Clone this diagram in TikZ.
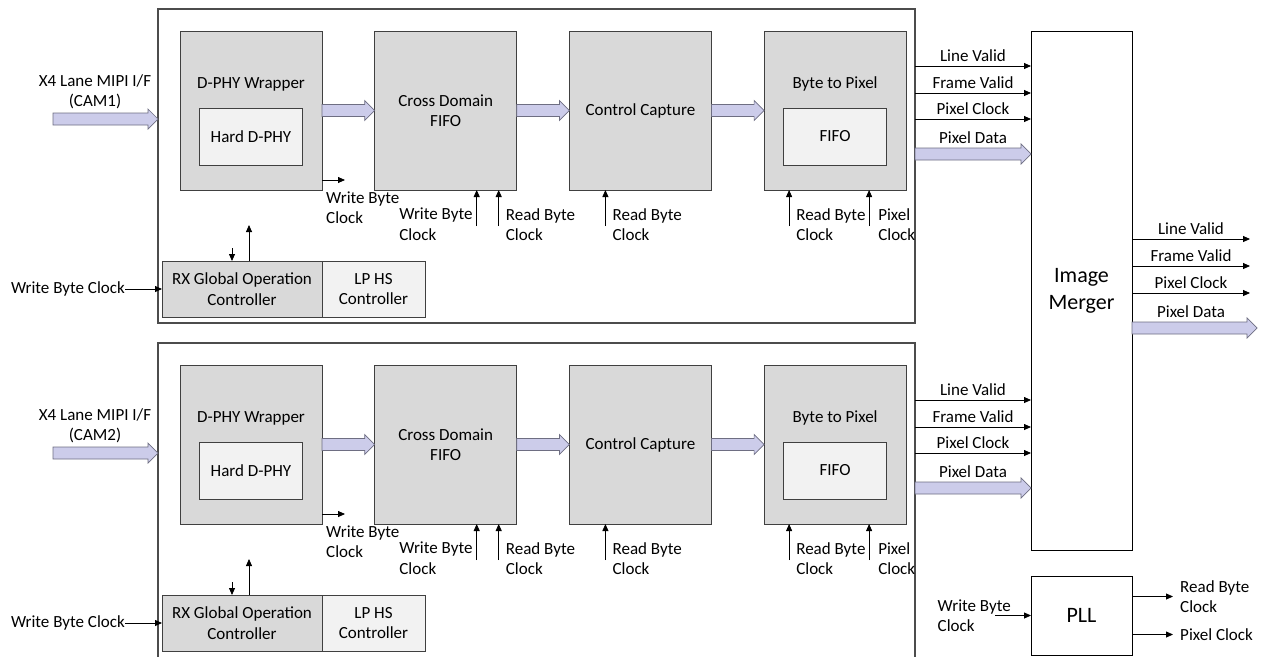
\documentclass[tikz,border=0pt]{standalone}
\usepackage{fontspec}
\setmainfont{Carlito}
\usetikzlibrary{arrows.meta,positioning,calc}
\definecolor{lav}{RGB}{204,204,234}
\definecolor{lavline}{RGB}{110,110,130}
\tikzset{
  outerbox/.style = {draw=black!70, line width=1.4pt, inner sep=0pt, outer sep=0pt,
  minimum width=757pt, anchor=north},
  basic/.style  = {draw=black!75, line width=0.9pt, inner sep=0pt, outer sep=0pt, align=center},
  mblock/.style = {basic, fill=gray!30, minimum width=142pt, minimum height=159pt},
  minner/.style = {basic, fill=gray!10, minimum width=103pt, minimum height=57pt},
  mctl/.style   = {basic, minimum height=56pt},
  bigbox/.style = {basic, draw=black, minimum width=101pt, font=\fontsize{22}{27}\selectfont},
  sig/.style    = {->, line width=0.8pt},
  lbl/.style    = {inner sep=0pt, align=left},
  fat/.style    = {draw=lavline, fill=lav, line width=0.7pt,
  to path={($(\tikztostart)+(0,6)$) -- ($(\tikztotarget)+(-10,6)$) -- ($(\tikztotarget)+(-10,10)$)
  -- (\tikztotarget) -- ($(\tikztotarget)+(-10,-10)$) -- ($(\tikztotarget)+(-10,-6)$)
  -- ($(\tikztostart)+(0,-6)$) -- cycle}}
}

\begin{document}
\begin{tikzpicture}[x=1pt, y=1pt, >={Triangle[length=7pt,width=6pt]},
  font=\fontsize{17}{20.5}\selectfont]
\path[use as bounding box, clip] (0,0) rectangle (1268,-656);

\node[bigbox, minimum height=519pt, anchor=north west] (merger) at (1031,-31) {Image\\Merger};
\node[bigbox, minimum height=79pt, below=26pt of merger] (pll) {PLL};

\foreach \i/\yy/\hh in {1/0/314,2/-334/330}{
  \node[outerbox, minimum height=\hh] (cam\i) at (536.5,-9+\yy) {};
  \node[mblock, below right=22pt and 22pt of cam\i.north west] (dphy\i) {};
  \node[mblock, right=52.7pt of dphy\i] (cd\i) {Cross Domain\\FIFO};
  \node[mblock, right=52.7pt of cd\i] (ctrl\i) {Control Capture};
  \node[mblock, right=52.7pt of ctrl\i] (btp\i) {};
  \node[minner, below=77pt of dphy\i.north] (hdphy\i) {Hard D-PHY};
  \node[lbl, above=17pt of hdphy\i] (dphyt\i) {D-PHY Wrapper};
  \node[minner, below=77pt of btp\i.north] (fifo\i) {FIFO};
  \node[lbl, above=17pt of fifo\i] (btpt\i) {Byte to Pixel};
  \node[mctl, fill=gray!30, minimum width=160pt, below right=252pt and 4pt of cam\i.north west] (rx\i)
    {RX Global Operation\\Controller};
  \node[mctl, fill=gray!10, minimum width=103pt, right=0pt of rx\i] (lphs\i) {LP HS\\Controller};

  % data path
  \coordinate (camin\i) at ([yshift=-110]cam\i.north west);
  \coordinate[left=105pt of camin\i] (mipi\i);
  \draw[fat] (mipi\i) to (camin\i);
  \node[align=center, inner sep=0pt] (mipil\i) at ([xshift=-63,yshift=-83]cam\i.north west)
    {X4 Lane MIPI I/F\\(CAM\i)};
  \draw[fat] (dphy\i.east) to (cd\i.west);
  \draw[fat] (cd\i.east) to (ctrl\i.west);
  \draw[fat] (ctrl\i.east) to (btp\i.west);

  % clocks
  \coordinate (wbo\i) at ([yshift=10]dphy\i.south east);
  \coordinate[right=23pt of wbo\i] (wboe\i);
  \draw[sig] (wbo\i) -- (wboe\i);
  \node[lbl, below right=1.5pt and 4pt of dphy\i.south east] (wbol\i) {Write Byte\\Clock};
  \coordinate (cdw\i) at ([xshift=-40]cd\i.south east);
  \coordinate (cdr\i) at ([xshift=-18]cd\i.south east);
  \coordinate (ccr\i) at ([xshift=36]ctrl\i.south west);
  \coordinate (bpr\i) at ([xshift=25]btp\i.south west);
  \coordinate (bpp\i) at ([xshift=105]btp\i.south west);
  \foreach \c in {cdw,cdr,ccr,bpr,bpp} \draw[sig] ([yshift=-36]\c\i) -- (\c\i);
  \node[lbl, below left=18pt and 4pt of cdw\i] (cdwl\i) {Write Byte\\Clock};
  \node[lbl, below right=18pt and 7pt of cdr\i] (cdrl\i) {Read Byte\\Clock};
  \node[lbl, below right=18pt and 7pt of ccr\i] (ccrl\i) {Read Byte\\Clock};
  \node[lbl, below right=18pt and 7pt of bpr\i] (bprl\i) {Read Byte\\Clock};
  \node[lbl, below right=18pt and 9pt of bpp\i] (bppl\i) {Pixel\\Clock};

  % controller
  \coordinate (rxd\i) at ([xshift=70]rx\i.north west);
  \coordinate (rxu\i) at ([xshift=87]rx\i.north west);
  \draw[sig] ([yshift=13]rxd\i) -- (rxd\i);
  \draw[sig] (rxu\i) -- ([yshift=36]rxu\i);
  \node[inner sep=0pt, left=37pt of rx\i] (wbc\i) {Write Byte Clock};
  \draw[sig] (wbc\i) -- (rx\i);

  % to merger
  \foreach \s/\dy in {Line Valid/57,Frame Valid/84,Pixel Clock/110}{
    \coordinate (o) at ([yshift=-\dy]cam\i.north east);
    \draw[sig] (o) -- (o -| merger.west) node[midway, above=1pt] (s\i\dy) {\s};
  }
  \coordinate (pd\i) at ([yshift=-145]cam\i.north east);
  \coordinate (pde\i) at (pd\i -| merger.west);
  \draw[fat] (pd\i) to (pde\i);
  \path (pd\i) -- (pde\i) node[midway, above=7pt] (pdl\i) {Pixel Data};
}

% merger outputs
\foreach \s/\dy in {Line Valid/208,Frame Valid/235,Pixel Clock/262}{
  \coordinate (mo) at ([yshift=-\dy]merger.north east);
  \coordinate (moe) at ([xshift=118]mo);
  \draw[sig] (mo) -- (moe) node[midway, above=1pt] (m\dy) {\s};
}
\coordinate (mpd) at ([yshift=-297]merger.north east);
\coordinate (mpde) at ([xshift=125]mpd);
\draw[fat] (mpd) to (mpde);
\path (mpd) -- ([xshift=118]mpd) node[midway, above=7pt] (mpdl) {Pixel Data};

% pll
\coordinate (pllin) at ([xshift=-36]pll.west);
\draw[sig] (pllin) -- (pll);
\node[lbl, left=20pt of pll.west] (pllinl) {Write Byte\\Clock};
\coordinate (pllo1) at ([yshift=19]pll.east);
\coordinate (pllo2) at ([yshift=-19]pll.east);
\coordinate[right=41pt of pllo1] (pllo1e);
\coordinate[right=41pt of pllo2] (pllo2e);
\draw[sig] (pllo1) -- (pllo1e);
\draw[sig] (pllo2) -- (pllo2e);
\node[lbl, right=7pt of pllo1e] (pllo1l) {Read Byte\\Clock};
\node[lbl, right=7pt of pllo2e] (pllo2l) {Pixel Clock};
\end{tikzpicture}
\end{document}
